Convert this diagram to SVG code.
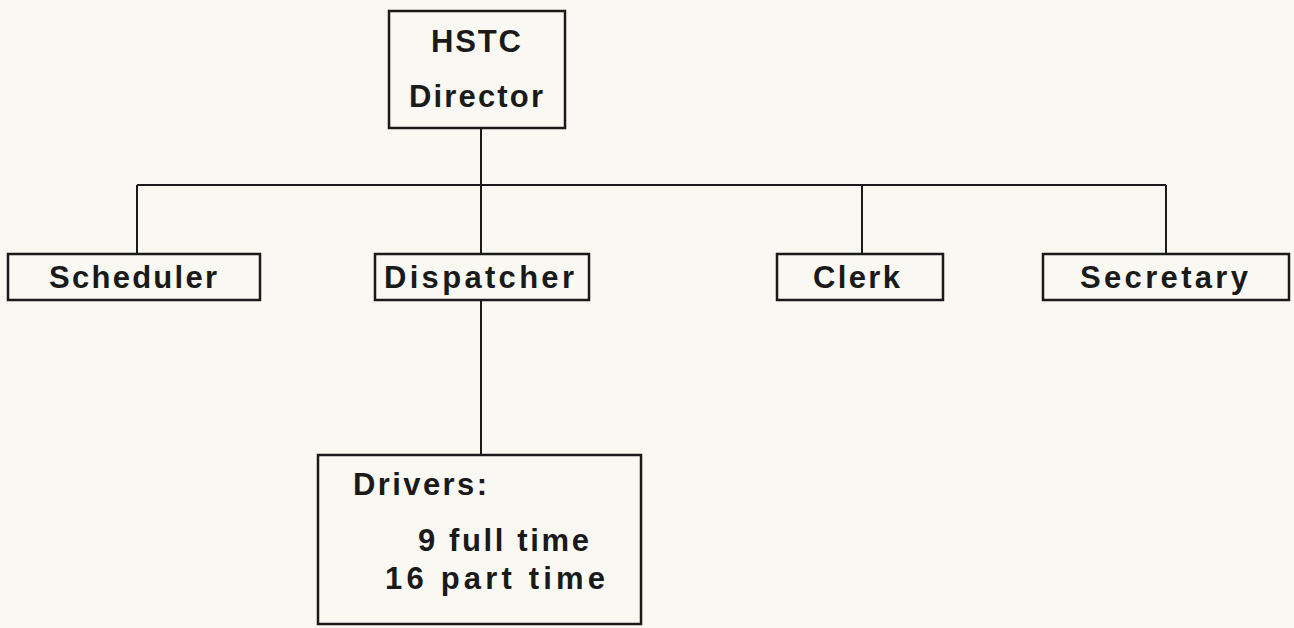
<svg xmlns="http://www.w3.org/2000/svg" width="1294" height="628" viewBox="0 0 1294 628">
<style>
.box{fill:none;stroke:#1a1a1a;stroke-width:2.5}
.ln{fill:none;stroke:#1a1a1a;stroke-width:2}
.t{font-family:"Liberation Sans",Arial,sans-serif;font-weight:bold;font-size:31px;fill:#1a1a1a}
</style>
<rect width="1294" height="628" fill="#f9f8f2"/>
<g id="connectors">
<path class="ln" d="M481 128V185M137 185H1166M137 185V254M481 185V254M862 185V254M1166 185V254M481 300V455"/>
</g>
<g id="director">
<rect class="box" x="389" y="11" width="176" height="117"/>
<text class="t" x="431" y="52" textLength="90" lengthAdjust="spacing">HSTC</text>
<text class="t" x="409" y="107" textLength="134" lengthAdjust="spacing">Director</text>
</g>
<g id="scheduler">
<rect class="box" x="8" y="254" width="252" height="46"/>
<text class="t" x="49" y="288" textLength="168" lengthAdjust="spacing">Scheduler</text>
</g>
<g id="dispatcher">
<rect class="box" x="375" y="254" width="214" height="46"/>
<text class="t" x="384" y="288" textLength="190" lengthAdjust="spacing">Dispatcher</text>
</g>
<g id="clerk">
<rect class="box" x="777" y="254" width="166" height="46"/>
<text class="t" x="813" y="288" textLength="87" lengthAdjust="spacing">Clerk</text>
</g>
<g id="secretary">
<rect class="box" x="1043" y="254" width="246" height="46"/>
<text class="t" x="1080" y="288" textLength="168" lengthAdjust="spacing">Secretary</text>
</g>
<g id="drivers">
<rect class="box" x="318" y="455" width="323" height="169"/>
<text class="t" x="353" y="495" textLength="134" lengthAdjust="spacing">Drivers:</text>
<text class="t" x="418" y="551" textLength="171" lengthAdjust="spacing">9 full time</text>
<text class="t" x="385" y="589" textLength="220" lengthAdjust="spacing">16 part time</text>
</g>
</svg>
